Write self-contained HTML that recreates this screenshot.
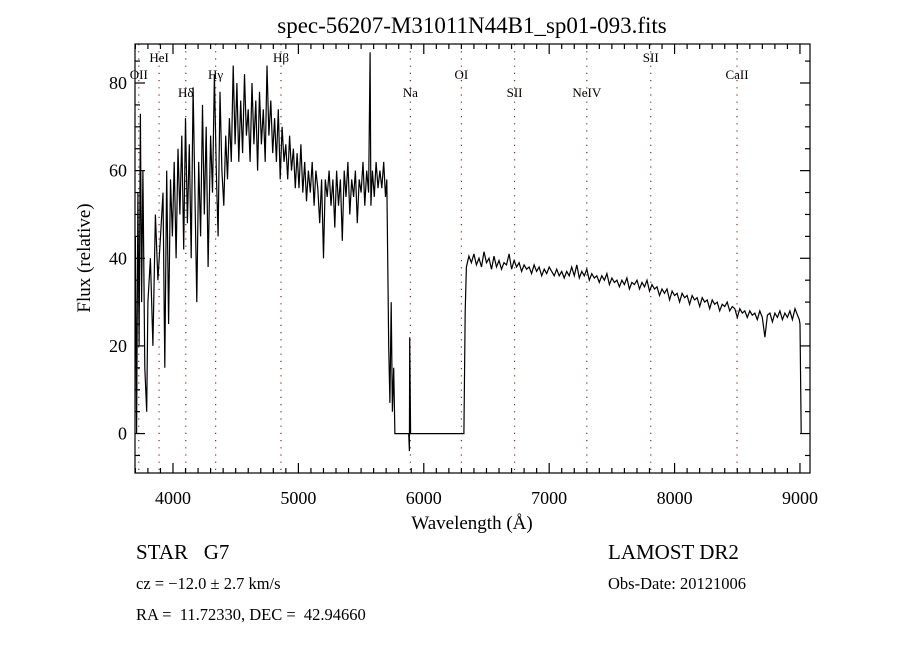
<!DOCTYPE html>
<html><head><meta charset="utf-8"><style>
html,body{margin:0;padding:0;background:#fff;}
svg{display:block;font-family:"Liberation Serif",serif;}
</style></head><body>
<svg id="chart" width="900" height="650" viewBox="0 0 900 650">
<rect x="0" y="0" width="900" height="650" fill="#fff"/>
<text x="472" y="33" font-size="23" text-anchor="middle">spec-56207-M31011N44B1_sp01-093.fits</text>
<g id="lines"></g>
<g id="ticks"></g>
<path id="spec" fill="none" stroke="#000" stroke-width="1.2"/>
<rect x="135" y="44" width="675" height="429" fill="none" stroke="#000" stroke-width="1.2"/>
<text x="472" y="529" font-size="19" text-anchor="middle">Wavelength (Å)</text>
<text transform="translate(90,258) rotate(-90)" font-size="19" text-anchor="middle">Flux (relative)</text>
<text x="136" y="559" font-size="21">STAR &#160;&#160;G7</text>
<text x="136" y="589" font-size="16.5">cz = −12.0 ± 2.7 km/s</text>
<text x="136" y="620" font-size="16.5">RA = &#160;11.72330, DEC = &#160;42.94660</text>
<text x="608" y="559" font-size="21">LAMOST DR2</text>
<text x="608" y="589" font-size="16.5">Obs-Date: 20121006</text>
</svg>
<script>
const wave=[3700,3710,3720,3730,3740,3750,3760,3775,3790,3800,3820,3840,3860,3880,3900,3920,3935,3950,3965,3980,3995,4010,4025,4040,4055,4070,4085,4100,4115,4130,4145,4160,4175,4190,4205,4220,4235,4250,4265,4280,4300,4315,4330,4345,4360,4375,4390,4405,4420,4435,4450,4465,4480,4495,4510,4525,4540,4555,4570,4585,4600,4615,4630,4645,4660,4675,4690,4705,4720,4735,4750,4765,4780,4795,4810,4825,4840,4855,4870,4885,4900,4915,4930,4945,4960,4975,4990,5005,5020,5035,5050,5065,5080,5095,5110,5125,5140,5155,5170,5185,5200,5215,5230,5245,5260,5275,5290,5305,5320,5335,5350,5365,5380,5395,5410,5425,5440,5455,5470,5485,5500,5515,5530,5545,5560,5572,5578,5590,5605,5620,5635,5650,5665,5680,5695,5705,5720,5730,5740,5750,5760,5770,5790,5800,5880,5885,5888,5895,5900,6320,6330,6340,6360,6380,6400,6420,6440,6460,6480,6500,6520,6540,6560,6580,6600,6620,6640,6660,6680,6700,6720,6740,6760,6780,6800,6820,6840,6860,6880,6900,6920,6940,6960,6980,7000,7020,7040,7060,7080,7100,7120,7140,7160,7180,7200,7220,7240,7260,7280,7300,7320,7340,7360,7380,7400,7420,7440,7460,7480,7500,7520,7540,7560,7580,7600,7620,7640,7660,7680,7700,7720,7740,7760,7780,7800,7820,7840,7860,7880,7900,7920,7940,7960,7980,8000,8020,8040,8060,8080,8100,8120,8140,8160,8180,8200,8220,8240,8260,8280,8300,8320,8340,8360,8380,8400,8420,8440,8460,8480,8500,8520,8540,8560,8580,8600,8620,8640,8660,8680,8700,8720,8740,8760,8780,8800,8820,8840,8860,8880,8900,8920,8940,8960,8980,8995,9000,9010];
const flux=[45,0,55,20,73,30,60,15,5,30,40,20,50,35,45,55,15,60,25,58,45,62,40,65,50,68,42,72,48,66,40,79,55,30,62,45,75,50,70,38,68,55,82,60,45,78,60,52,68,58,72,62,84,66,80,62,76,64,82,68,74,62,80,66,76,60,78,66,74,62,84,68,76,64,72,62,74,58,70,62,66,58,68,60,65,56,64,56,66,55,62,53,60,55,62,52,60,56,48,58,40,58,54,60,52,58,47,60,52,58,44,60,54,62,50,58,54,60,48,58,55,62,52,60,55,87,52,60,54,62,56,60,56,62,54,58,20,7,30,5,15,0,0,0,0,-4,22,0,0,0,28,38,40.5,39,41,38.5,40,38,41.5,39,40,37.5,40.5,38,39.5,37.5,39,38.5,41,37.5,39.5,38,39,37,38.5,37.5,38,36.5,38.5,37,38,36,37.5,36.5,38,37,36,37.5,36,37,35.5,37,36,38,36,38.5,35.5,37,36,37.5,35,36.5,35.5,36,34.5,36,35,36.5,34,35.5,34.5,35,33.5,35,34,35.5,33,34.5,34,35,33,34.5,33.5,35,32.5,34,33,33.5,31.5,33,32,33,30.5,32.5,31.5,32,30,32,31,31.5,29.5,31.5,30.5,31,29,31,30,30.5,28.5,30.5,29.5,30,28,29.5,29,30,28,29,28.5,26.5,28.5,27.5,28,26.5,28,27,27.5,26,28,26.5,22,27,27.5,25.5,27.5,26.5,28,26,27.5,26.5,28,26,28.5,27,26,25,0];
const lineNames=["OII","HeI","Hδ","Hγ","Hβ","Na","OI","SII","NeIV","SII","CaII"];
const lineWaves=[3727,3889,4102,4340,4861,5893,6300,6724,7300,7810,8498];
const lineRows=[1,0,2,1,0,2,1,2,2,0,1];
const xTicks=[4000,5000,6000,7000,8000,9000];
const yTicks=[0,20,40,60,80];
const X0=135,X1=810,Y0=44,Y1=473,XMIN=3697,XMAX=9080,YMIN=-9,YMAX=88.9;
const NS="http://www.w3.org/2000/svg";
function sx(w){return X0+(w-XMIN)/(XMAX-XMIN)*(X1-X0);}
function sy(f){return Y1-(f-YMIN)/(YMAX-YMIN)*(Y1-Y0);}
function mk(tag,attrs,parent){const e=document.createElementNS(NS,tag);for(const k in attrs)e.setAttribute(k,attrs[k]);parent.appendChild(e);return e;}
let d="";wave.forEach((w,i)=>{d+=(i?"L":"M")+sx(w).toFixed(1)+","+sy(flux[i]).toFixed(1);});
document.getElementById("spec").setAttribute("d",d);
const lg=document.getElementById("lines");
lineWaves.forEach((w,i)=>{
  const x=sx(w);
  const l=mk("line",{x1:x,x2:x,y1:Y0,y2:Y1,stroke:"#7a3030","stroke-width":1.2,"stroke-dasharray":"1.2 6"},lg);
  
  
  const t=mk("text",{x:x,y:[62,79,97][lineRows[i]],"font-size":13,"text-anchor":"middle"},lg);
  t.textContent=lineNames[i];
  
  
});
const tg=document.getElementById("ticks");
for(let w=3700;w<=9080;w+=100){
  const x=sx(w),maj=w%1000===0,L=maj?10:5;
  const a=mk("line",{x1:x,x2:x,y1:Y1,y2:Y1-L,stroke:"#000","stroke-width":1.2},tg);
  
  
  const b=mk("line",{x1:x,x2:x,y1:Y0,y2:Y0+L,stroke:"#000","stroke-width":1.2},tg);
  
  
}
xTicks.forEach(w=>{
  const t=mk("text",{x:sx(w),y:Y1+31,"font-size":18,"text-anchor":"middle"},tg);
  t.textContent=w;
  
  
});
for(let f=-5;f<=85;f+=5){
  const y=sy(f),maj=f%20===0,L=maj?10:5;
  const a=mk("line",{x1:X0,x2:X0+L,y1:y,y2:y,stroke:"#000","stroke-width":1.2},tg);
  
  
  const b=mk("line",{x1:X1,x2:X1-L,y1:y,y2:y,stroke:"#000","stroke-width":1.2},tg);
  
  
}
yTicks.forEach(f=>{
  const t=mk("text",{x:X0-8,y:sy(f)+6,"font-size":18,"text-anchor":"end"},tg);
  t.textContent=f;
  
  
});
</script>
</body></html>
